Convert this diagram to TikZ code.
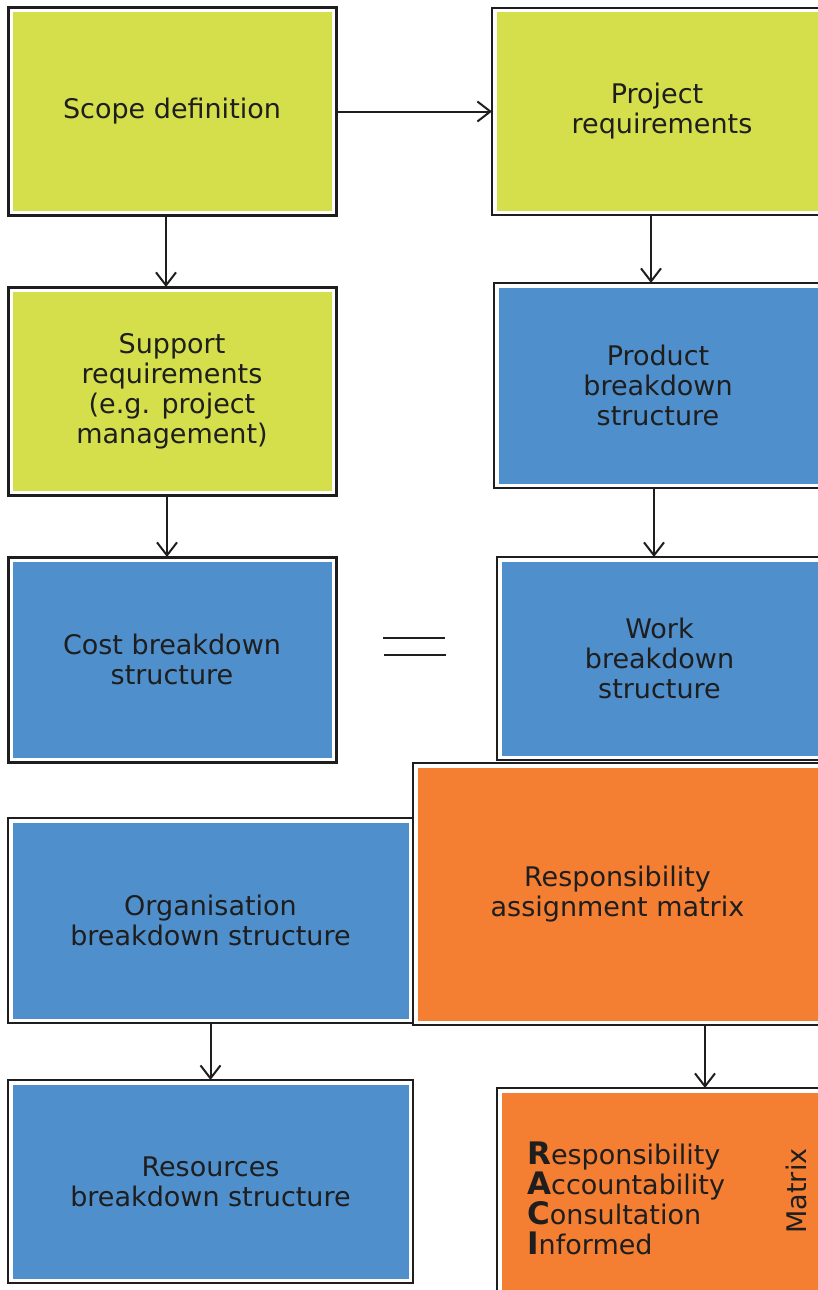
\documentclass[tikz,border=0pt]{standalone}
\usepackage{fontspec}
\setmainfont{DejaVu Sans}
\usetikzlibrary{arrows.meta}
\definecolor{ink}{RGB}{30,30,30}
\definecolor{boxgreen}{RGB}{212,223,75}
\definecolor{boxblue}{RGB}{79,143,204}
\definecolor{boxorange}{RGB}{244,126,50}
\begin{document}
\begin{tikzpicture}[x=1pt,y=-1pt,
  box/.style={draw=ink, fill=white, line width=2.5pt, inner sep=0pt, outer sep=0pt,
    align=center, text=ink, font=\fontsize{27}{30}\selectfont},
  inset/.style={path picture={\fill[#1] ([shift={(4.5pt,-4.5pt)}]path picture bounding box.north west)
     rectangle ([shift={(-4.5pt,4.5pt)}]path picture bounding box.south east);}},
  plain/.style={inner sep=0pt, text=ink, font=\fontsize{27}{30}\selectfont},
  arr/.style={draw=ink, line width=2pt, -{Straight Barb[length=13pt,width=20pt,line width=2pt]}}
]
\useasboundingbox (0,0) rectangle (817,1290);

\node[box, line width=3pt, inset=boxgreen, minimum width=328pt, minimum height=207pt] (scope) at (172,111.5) {Scope definition};
\node[box, line width=2pt, inset=boxgreen, minimum width=330pt, minimum height=207pt] (proj) at (657,111.5) {\raisebox{-4pt}{\parbox{6cm}{\centering Project\\requirements}}};
\node[box, line width=3pt, inset=boxgreen, minimum width=328pt, minimum height=208pt] (supp) at (172,391) {Support\\requirements\\(e.g. project\\management)};
\node[box, line width=2pt, inset=boxblue, minimum width=328pt, minimum height=205pt] (prod) at (658,385.5) {Product\\breakdown\\structure};
\node[box, line width=3pt, inset=boxblue, minimum width=328pt, minimum height=205pt] (cost) at (172,659.5) {Cost breakdown\\structure};
\node[box, line width=2.5pt, inset=boxblue, minimum width=325pt, minimum height=203pt] (work) at (659.5,658.5) {Work\\breakdown\\structure};
\node[box, line width=2pt, inset=boxblue, minimum width=405pt, minimum height=205pt] (org) at (210.5,920.5) {Organisation\\breakdown structure};
\node[box, line width=2.5pt, inset=boxorange, minimum width=409pt, minimum height=262pt] (ram) at (617.5,894) {Responsibility\\assignment matrix};
\node[box, line width=2.5pt, inset=boxblue, minimum width=405pt, minimum height=203pt] (res) at (210.5,1181.5) {Resources\\breakdown structure};
\node[box, line width=2.5pt, inset=boxorange, minimum width=325pt, minimum height=212pt] (raci) at (659.5,1194) {};

\node[plain, anchor=west, align=left] (racitext) at (527,1198)
  {{\fontsize{31}{30}\selectfont\bfseries R}esponsibility\\
   {\fontsize{31}{30}\selectfont\bfseries A}ccountability\\
   {\fontsize{31}{30}\selectfont\bfseries C}onsultation\\
   {\fontsize{31}{30}\selectfont\bfseries I}nformed};
\node[plain, rotate=90] (matrix) at (796,1191) {Matrix};

% equals sign between cost and work breakdown structures
\coordinate (eqa) at (383,638);
\coordinate (eqb) at (445,638);
\coordinate (eqc) at (384,655);
\coordinate (eqd) at (446,655);
\draw[ink, line width=2.5pt] (eqa) -- (eqb);
\draw[ink, line width=2.5pt] (eqc) -- (eqd);

\draw[arr] (scope.east) -- (scope.east -| proj.west);
\draw[arr] ([xshift=-6pt]scope.south) -- ([xshift=-6pt]scope.south |- supp.north);
\draw[arr] ([xshift=-6pt]proj.south) -- ([xshift=-6pt]proj.south |- prod.north);
\draw[arr] ([xshift=-5pt]supp.south) -- ([xshift=-5pt]supp.south |- cost.north);
\draw[arr] ([xshift=-4pt]prod.south) -- ([xshift=-4pt]prod.south |- work.north);
\draw[arr] (org.south) -- (org.south |- res.north);
\draw[arr] ([xshift=87.5pt]ram.south) -- ([xshift=87.5pt]ram.south |- raci.north);
\end{tikzpicture}
\end{document}
